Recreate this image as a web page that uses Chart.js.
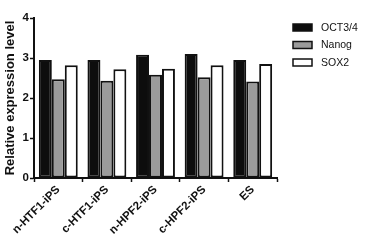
<!DOCTYPE html>
<html lang="en">
<head>
    <meta charset="UTF-8">
    <title>Relative expression level</title>
    <script src="https://cdn.jsdelivr.net/npm/chart.js@4.4.0/dist/chart.umd.min.js"></script>
    <style>
        html, body { margin: 0; padding: 0; background: #ffffff; }
        .chart-container { position: relative; width: 369px; height: 244px; }
    </style>
</head>
<body>
    <div class="chart-container">
        <canvas id="exprChart"></canvas>
    </div>
    <script>
        // Datos
        const categories = ['n-HTF1-iPS', 'c-HTF1-iPS', 'n-HPF2-iPS', 'c-HPF2-iPS', 'ES'];
        const oct34 = [2.95, 2.95, 3.08, 3.10, 2.95];
        const nanog = [2.47, 2.43, 2.58, 2.52, 2.41];
        const sox2 = [2.82, 2.72, 2.73, 2.82, 2.85];
        const yTicks = [0, 1, 2, 3, 4];

        const fontFamily = "'Liberation Sans', Arial, sans-serif";

        // Leyenda dibujada a mano a la derecha
        const sideLegend = {
            id: 'sideLegend',
            afterDraw(chart) {
                const c = chart.ctx;
                const rows = [27.5, 45, 62.5];
                c.save();
                chart.data.datasets.forEach((ds, i) => {
                    const y = rows[i];
                    c.fillStyle = ds.backgroundColor;
                    c.fillRect(293, y - 3.5, 19, 7);
                    c.strokeStyle = '#111';
                    c.lineWidth = 1.5;
                    c.strokeRect(293, y - 3.5, 19, 7);
                    c.fillStyle = '#111';
                    c.font = '10.5px ' + fontFamily;
                    c.textBaseline = 'middle';
                    c.textAlign = 'left';
                    c.fillText(ds.label, 321, y + 0.5);
                });
                c.restore();
            }
        };

        const ctx = document.getElementById('exprChart').getContext('2d');
        const exprChart = new Chart(ctx, {
            type: 'bar',
            data: {
                labels: categories,
                datasets: [
                    { label: 'OCT3/4', data: oct34, backgroundColor: '#0d0d0d' },
                    { label: 'Nanog', data: nanog, backgroundColor: '#9b9b9b' },
                    { label: 'SOX2', data: sox2, backgroundColor: '#ffffff' }
                ].map(ds => Object.assign(ds, {
                    borderColor: '#111',
                    borderWidth: 2,
                    borderSkipped: false,
                    barPercentage: 1.0,
                    categoryPercentage: 0.8
                }))
            },
            options: {
                responsive: true,
                maintainAspectRatio: false,
                animation: false,
                layout: { padding: { top: 18, right: 92, bottom: 0, left: 0 } },
                plugins: {
                    legend: { display: false },
                    tooltip: { enabled: false }
                },
                scales: {
                    x: {
                        grid: { display: true, drawOnChartArea: false, tickLength: 4, tickColor: '#111', tickWidth: 1.5 },
                        border: { color: '#111', width: 2 },
                        ticks: {
                            color: '#111',
                            maxRotation: 45,
                            minRotation: 45,
                            padding: 1,
                            font: { family: fontFamily, size: 11.5, weight: 'bold' }
                        },
                        afterFit(scale) { scale.height = 66; }
                    },
                    y: {
                        min: 0,
                        max: 4,
                        afterBuildTicks(scale) { scale.ticks = yTicks.map(v => ({ value: v })); },
                        grid: { display: true, drawOnChartArea: false, tickLength: 4, tickColor: '#111', tickWidth: 1.5 },
                        border: { color: '#111', width: 2 },
                        ticks: {
                            color: '#111',
                            padding: 1,
                            font: { family: fontFamily, size: 11.5, weight: 'bold' }
                        },
                        title: {
                            display: true,
                            text: 'Relative expression level',
                            color: '#111',
                            padding: { top: 3, bottom: 0 },
                            font: { family: fontFamily, size: 13, weight: 'bold' }
                        },
                        afterFit(scale) { scale.width = 34; }
                    }
                }
            },
            plugins: [sideLegend]
        });
    </script>
</body>
</html>
